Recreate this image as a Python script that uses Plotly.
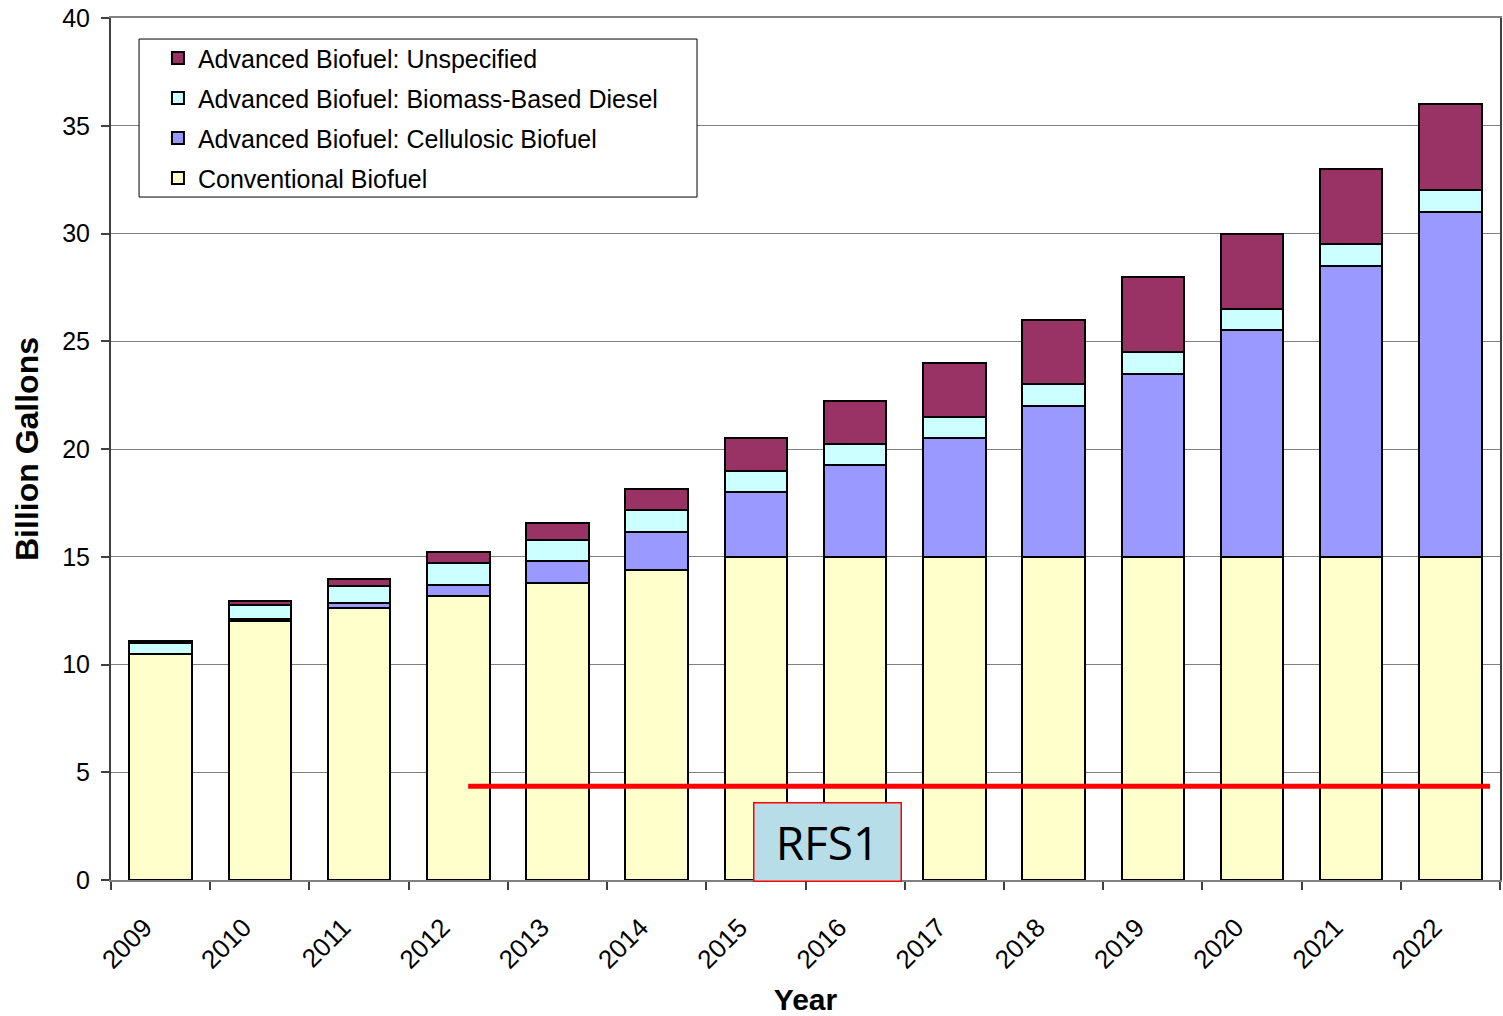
import plotly.graph_objects as go

years = ["2009", "2010", "2011", "2012", "2013", "2014", "2015", "2016",
         "2017", "2018", "2019", "2020", "2021", "2022"]
conventional = [10.5, 12.0, 12.6, 13.2, 13.8, 14.4, 15.0, 15.0, 15.0, 15.0, 15.0, 15.0, 15.0, 15.0]
cellulosic = [0.0, 0.1, 0.25, 0.5, 1.0, 1.75, 3.0, 4.25, 5.5, 7.0, 8.5, 10.5, 13.5, 16.0]
biomass_diesel = [0.5, 0.65, 0.8, 1.0, 1.0, 1.0, 1.0, 1.0, 1.0, 1.0, 1.0, 1.0, 1.0, 1.0]
unspecified = [0.1, 0.2, 0.3, 0.5, 0.75, 1.0, 1.5, 2.0, 2.5, 3.0, 3.5, 3.5, 3.5, 4.0]

series_names = ["Conventional Biofuel", "Advanced Biofuel: Cellulosic Biofuel",
                "Advanced Biofuel: Biomass-Based Diesel", "Advanced Biofuel: Unspecified"]
series_values = [conventional, cellulosic, biomass_diesel, unspecified]
series_colors = ["#FFFFCC", "#9999FF", "#CCFFFF", "#993366"]
legend_ranks = [4, 3, 2, 1]

rfs1_level = 4.35
rfs1_x_start = 3.1
rfs1_x_end = 13.4
rfs1_label = "RFS1"

FONT = "Liberation Sans, Arial, sans-serif"

fig = go.Figure()
for name, vals, col, rank in zip(series_names, series_values, series_colors, legend_ranks):
    fig.add_trace(go.Bar(
        x=years, y=vals, name=name, legendgroup=name, legendrank=rank,
        marker=dict(color=col, line=dict(color="black", width=2)),
    ))

# legend frame
fig.add_shape(type="rect", xref="paper", yref="paper",
              x0=0.0202, x1=0.4219, y0=0.7923, y1=0.9756,
              line=dict(color="black", width=1), fillcolor="white", layer="above")

fig.add_shape(type="line", xref="x", yref="y",
              x0=rfs1_x_start, x1=rfs1_x_end, y0=rfs1_level, y1=rfs1_level,
              line=dict(color="#FF0000", width=5))

fig.add_annotation(x=6.72, y=1.78, xref="x", yref="y", text=rfs1_label,
                   showarrow=False, font=dict(family="Open Sans, sans-serif", size=46, color="black"),
                   bgcolor="#B7DEE8", bordercolor="#FF0000", borderwidth=1.5,
                   width=144, height=75, align="center", valign="middle")

fig.update_layout(
    barmode="stack",
    bargap=0.37,
    width=1503, height=1016,
    margin=dict(l=111, r=3, t=18, b=136),
    paper_bgcolor="white", plot_bgcolor="white",
    font=dict(family=FONT, size=25, color="black"),
    showlegend=True,
    legend=dict(
        x=0.0338, y=0.980, xanchor="left", yanchor="top",
        traceorder="grouped",
        borderwidth=0, bgcolor="rgba(0,0,0,0)",
        font=dict(family=FONT, size=25, color="black"),
        tracegroupgap=4.5,
        itemwidth=30,
    ),
    xaxis=dict(
        type="category",
        automargin=False,
        showline=True, linecolor="#808080", linewidth=2, mirror=True,
        ticks="outside", tickson="boundaries", ticklen=8, tickcolor="#404040", tickwidth=1.5,
        tickangle=-45,
        tickfont=dict(family=FONT, size=26),
        ticklabelstandoff=20,
        ticklabelshift=-16,
        title=dict(text="<b>Year</b>", font=dict(family=FONT, size=30), standoff=20),
        showgrid=False,
    ),
    yaxis=dict(
        range=[0, 40], dtick=5,
        automargin=False,
        showline=True, linecolor="#404040", linewidth=2, mirror=True,
        ticks="outside", ticklen=8, tickcolor="#404040", tickwidth=1.5,
        tickfont=dict(family=FONT, size=25),
        ticklabelstandoff=6,
        showgrid=True, gridcolor="#808080", gridwidth=1,
        title=dict(text="<b>Billion Gallons</b>", font=dict(family=FONT, size=32), standoff=14),
        zeroline=False,
    ),
)

fig.write_html("out.html")
